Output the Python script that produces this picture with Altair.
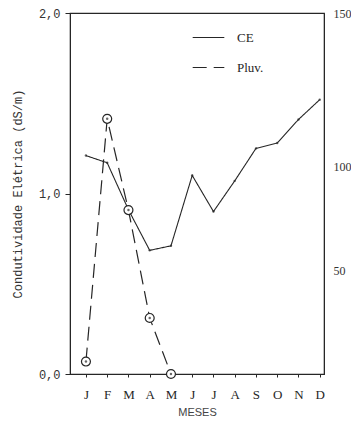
import altair as alt
import pandas as pd

month_labels = ["J", "F", "M", "A", "M", "J", "J", "A", "S", "O", "N", "D"]
ce_months = list(range(12))
ce_values = [1.21, 1.17, 0.91, 0.685, 0.71, 1.10, 0.90, 1.07, 1.25, 1.28, 1.41, 1.52]
pluv_months = [0, 1, 2, 3, 4]
pluv_values = [6, 123, 79, 27, 0]
left_ticks = [0.0, 1.0, 2.0]
right_ticks = [50, 100, 174]
right_top_label = "150"

ce_df = pd.DataFrame({"m": ce_months, "v": ce_values, "s": "CE"})
pl_df = pd.DataFrame({"m": pluv_months, "v": pluv_values, "s": "Pluv."})

ink = "#262626"
label_expr = "[" + ",".join("'%s'" % m for m in month_labels) + "][datum.value]"

x = alt.X(
    "m:Q",
    scale=alt.Scale(domain=[-0.75, 11.2], nice=False, zero=False),
    axis=alt.Axis(
        values=ce_months, labelExpr=label_expr, title="MESES", grid=False,
        labelFont="Liberation Serif", labelFontSize=13, labelColor=ink,
        labelPadding=11, tickSize=3, tickColor=ink, domainColor=ink,
        titleFont="Liberation Sans", titleFontSize=11, titleFontWeight="normal",
        titleColor="#444", titleY=41, titleBaseline="alphabetic",
    ),
)

dash = alt.StrokeDash(
    "s:N",
    scale=alt.Scale(domain=["CE", "Pluv."], range=[[1, 0], [14, 7]]),
    legend=alt.Legend(
        title=None, orient="none", legendX=122, legendY=8,
        symbolType="stroke", symbolSize=1000, symbolStrokeColor=ink,
        symbolStrokeWidth=1.2, labelFont="Liberation Serif", labelFontSize=13,
        labelColor=ink, labelOffset=12, rowPadding=6,
    ),
)

y_left = alt.Y(
    "v:Q",
    scale=alt.Scale(domain=[0, 2], nice=False),
    axis=alt.Axis(
        values=left_ticks, format=".1f", labelExpr="replace(datum.label, '.', ',')",
        title="Condutividade Elétrica (dS/m)", grid=False,
        labelFont="Liberation Mono", labelFontSize=12, labelColor="#333",
        labelPadding=5, tickSize=5, tickColor=ink, domainColor=ink,
        titleFont="Liberation Mono", titleFontSize=12, titleFontWeight="normal",
        titleColor="#333", titlePadding=14,
    ),
)

y_right = alt.Y(
    "v:Q",
    scale=alt.Scale(domain=[0, 174], nice=False),
    axis=alt.Axis(
        orient="right", values=right_ticks,
        labelExpr="datum.value > 160 ? '%s' : datum.label" % right_top_label,
        title=None, grid=False,
        labelFont="Liberation Serif", labelFontSize=12, labelColor="#333",
        labelPadding=9, tickSize=0, tickColor=ink, domainColor=ink,
    ),
)

ce_line = alt.Chart(ce_df).mark_line(color=ink, strokeWidth=1.1).encode(x=x, y=y_left, strokeDash=dash)
ce_pts = alt.Chart(ce_df).mark_point(color=ink, filled=True, size=6).encode(x=x, y=y_left)
left = alt.layer(ce_line, ce_pts)

pl_line = alt.Chart(pl_df).mark_line(color=ink, strokeWidth=1.2).encode(x=x, y=y_right, strokeDash=dash)
pl_pts = alt.Chart(pl_df).mark_point(color=ink, filled=False, size=80, strokeWidth=1.2, fill="white", fillOpacity=1).encode(x=x, y=y_right)
pl_dot = alt.Chart(pl_df).mark_point(color=ink, filled=True, size=6).encode(x=x, y=y_right)
right = alt.layer(pl_line, pl_pts, pl_dot)

chart = (
    alt.layer(left, right)
    .resolve_scale(y="independent")
    .properties(
        width=254, height=361,
        autosize=alt.AutoSizeParams(type="none"),
        padding={"left": 62, "top": 5, "right": 27, "bottom": 43},
        background="white",
    )
    .configure_view(stroke=ink, strokeWidth=1.2)
)

chart.save("out.html", embed_options={"renderer": "svg", "actions": False})
